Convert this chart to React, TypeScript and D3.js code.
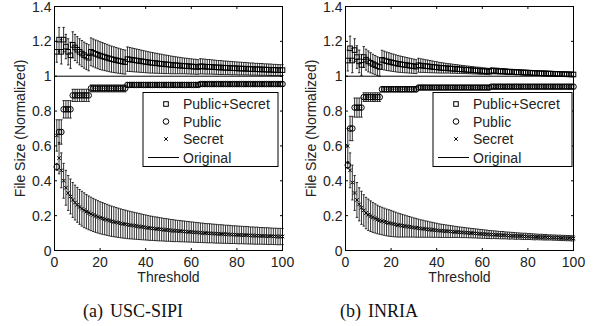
import * as d3 from 'd3';

const THRESHOLDS = d3.range(1, 101);
const X_TICKS = [0, 20, 40, 60, 80, 100];
const Y_TICKS = [0, 0.2, 0.4, 0.6, 0.8, 1, 1.2, 1.4];
const ORIGINAL = 1;
const LEGEND_LABELS = ['Public+Secret', 'Public', 'Secret', 'Original'];

// (a) USC-SIPI
const USC_PS = [
  1.14, 1.21, 1.14, 1.21, 1.17, 1.14, 1.12, 1.18, 1.165, 1.152,
  1.14, 1.13, 1.121, 1.113, 1.106, 1.14, 1.134, 1.128, 1.123, 1.118,
  1.114, 1.11, 1.106, 1.102, 1.098, 1.095, 1.092, 1.089, 1.086, 1.083,
  1.081, 1.098, 1.096, 1.094, 1.092, 1.09, 1.088, 1.086, 1.084, 1.082,
  1.08, 1.078, 1.077, 1.075, 1.074, 1.072, 1.071, 1.069, 1.068, 1.067,
  1.065, 1.064, 1.063, 1.062, 1.061, 1.06, 1.059, 1.058, 1.057, 1.056,
  1.055, 1.054, 1.053, 1.057, 1.056, 1.055, 1.054, 1.054, 1.053, 1.052,
  1.051, 1.05, 1.05, 1.049, 1.048, 1.048, 1.047, 1.046, 1.046, 1.045,
  1.044, 1.044, 1.043, 1.043, 1.042, 1.041, 1.041, 1.04, 1.04, 1.039,
  1.039, 1.038, 1.038, 1.037, 1.037, 1.036, 1.036, 1.035, 1.035, 1.035,
];
const USC_PS_ERR = [
  0.06, 0.07, 0.07, 0.07, 0.07, 0.075, 0.075, 0.075, 0.075, 0.075,
  0.075, 0.075, 0.075, 0.075, 0.075, 0.08, 0.08, 0.08, 0.08, 0.08,
  0.079, 0.078, 0.077, 0.076, 0.075, 0.074, 0.073, 0.072, 0.071, 0.07,
  0.069, 0.07, 0.069, 0.068, 0.067, 0.066, 0.065, 0.064, 0.063, 0.062,
  0.061, 0.06, 0.059, 0.058, 0.057, 0.056, 0.055, 0.054, 0.053, 0.052,
  0.051, 0.05, 0.049, 0.048, 0.047, 0.046, 0.045, 0.045, 0.044, 0.044,
  0.043, 0.043, 0.042, 0.044, 0.043, 0.043, 0.042, 0.042, 0.041, 0.041,
  0.04, 0.04, 0.04, 0.039, 0.039, 0.038, 0.038, 0.038, 0.037, 0.037,
  0.037, 0.036, 0.036, 0.036, 0.035, 0.035, 0.035, 0.034, 0.034, 0.034,
  0.034, 0.033, 0.033, 0.033, 0.033, 0.032, 0.032, 0.032, 0.031, 0.031,
];
const USC_PUB = [
  0.48, 0.68, 0.68, 0.81, 0.81, 0.81, 0.81, 0.89, 0.89, 0.89,
  0.89, 0.89, 0.89, 0.89, 0.89, 0.93, 0.93, 0.93, 0.93, 0.93,
  0.93, 0.93, 0.93, 0.93, 0.93, 0.93, 0.93, 0.93, 0.93, 0.93,
  0.93, 0.95, 0.95, 0.95, 0.95, 0.95, 0.95, 0.95, 0.95, 0.95,
  0.95, 0.95, 0.95, 0.95, 0.95, 0.95, 0.95, 0.95, 0.95, 0.95,
  0.95, 0.95, 0.95, 0.95, 0.95, 0.95, 0.95, 0.95, 0.95, 0.95,
  0.95, 0.95, 0.95, 0.955, 0.955, 0.955, 0.955, 0.955, 0.955, 0.955,
  0.955, 0.955, 0.955, 0.955, 0.955, 0.955, 0.955, 0.955, 0.955, 0.955,
  0.955, 0.955, 0.955, 0.955, 0.955, 0.955, 0.955, 0.955, 0.955, 0.955,
  0.955, 0.955, 0.955, 0.955, 0.955, 0.955, 0.955, 0.955, 0.955, 0.955,
];
const USC_PUB_ERR = [
  0.02, 0.07, 0.07, 0.05, 0.05, 0.05, 0.05, 0.035, 0.035, 0.035,
  0.035, 0.035, 0.035, 0.035, 0.035, 0.02, 0.02, 0.02, 0.02, 0.02,
  0.02, 0.02, 0.02, 0.02, 0.02, 0.02, 0.02, 0.02, 0.02, 0.02,
  0.02, 0.012, 0.012, 0.012, 0.012, 0.012, 0.012, 0.012, 0.012, 0.012,
  0.012, 0.012, 0.012, 0.012, 0.012, 0.012, 0.012, 0.012, 0.012, 0.012,
  0.012, 0.012, 0.012, 0.012, 0.012, 0.012, 0.012, 0.012, 0.012, 0.012,
  0.012, 0.012, 0.012, 0.01, 0.01, 0.01, 0.01, 0.01, 0.01, 0.01,
  0.01, 0.01, 0.01, 0.01, 0.01, 0.01, 0.01, 0.01, 0.01, 0.01,
  0.01, 0.01, 0.01, 0.01, 0.01, 0.01, 0.01, 0.01, 0.01, 0.01,
  0.01, 0.01, 0.01, 0.01, 0.01, 0.01, 0.01, 0.01, 0.01, 0.01,
];
const USC_SEC = [
  0.66, 0.53, 0.46, 0.4, 0.36, 0.33, 0.31, 0.29, 0.275, 0.262,
  0.25, 0.24, 0.231, 0.223, 0.216, 0.21, 0.204, 0.198, 0.193, 0.188,
  0.184, 0.18, 0.176, 0.172, 0.168, 0.165, 0.162, 0.159, 0.156, 0.153,
  0.151, 0.148, 0.146, 0.144, 0.142, 0.14, 0.138, 0.136, 0.134, 0.132,
  0.13, 0.128, 0.127, 0.125, 0.124, 0.122, 0.121, 0.119, 0.118, 0.117,
  0.115, 0.114, 0.113, 0.112, 0.111, 0.11, 0.109, 0.108, 0.107, 0.106,
  0.105, 0.104, 0.103, 0.102, 0.101, 0.1, 0.099, 0.099, 0.098, 0.097,
  0.096, 0.095, 0.095, 0.094, 0.093, 0.093, 0.092, 0.091, 0.091, 0.09,
  0.089, 0.089, 0.088, 0.088, 0.087, 0.086, 0.086, 0.085, 0.085, 0.084,
  0.084, 0.083, 0.083, 0.082, 0.082, 0.081, 0.081, 0.08, 0.08, 0.08,
];
const USC_SEC_ERR = [
  0.09, 0.09, 0.1, 0.1, 0.1, 0.1, 0.1, 0.1, 0.1, 0.1,
  0.1, 0.1, 0.1, 0.098, 0.097, 0.096, 0.095, 0.094, 0.093, 0.092,
  0.091, 0.09, 0.089, 0.088, 0.087, 0.086, 0.085, 0.084, 0.083, 0.082,
  0.081, 0.08, 0.079, 0.078, 0.077, 0.076, 0.075, 0.074, 0.073, 0.072,
  0.071, 0.07, 0.069, 0.068, 0.068, 0.067, 0.066, 0.065, 0.065, 0.064,
  0.063, 0.063, 0.062, 0.061, 0.061, 0.06, 0.06, 0.059, 0.059, 0.058,
  0.058, 0.057, 0.057, 0.056, 0.056, 0.055, 0.055, 0.055, 0.054, 0.054,
  0.054, 0.053, 0.053, 0.053, 0.052, 0.052, 0.052, 0.051, 0.051, 0.051,
  0.051, 0.05, 0.05, 0.05, 0.05, 0.049, 0.049, 0.049, 0.049, 0.048,
  0.048, 0.048, 0.048, 0.048, 0.047, 0.047, 0.047, 0.047, 0.047, 0.046,
];

// (b) INRIA
const INRIA_PS = [
  1.09, 1.16, 1.09, 1.15, 1.11, 1.085, 1.065, 1.11, 1.095, 1.085,
  1.077, 1.07, 1.064, 1.058, 1.053, 1.094, 1.09, 1.086, 1.083, 1.08,
  1.077, 1.074, 1.071, 1.069, 1.067, 1.065, 1.063, 1.061, 1.059, 1.057,
  1.055, 1.063, 1.061, 1.06, 1.058, 1.057, 1.055, 1.054, 1.052, 1.051,
  1.049, 1.048, 1.047, 1.046, 1.045, 1.044, 1.043, 1.042, 1.041, 1.04,
  1.039, 1.038, 1.037, 1.036, 1.035, 1.034, 1.033, 1.032, 1.031, 1.03,
  1.029, 1.028, 1.027, 1.031, 1.031, 1.03, 1.029, 1.028, 1.028, 1.027,
  1.026, 1.025, 1.025, 1.024, 1.023, 1.023, 1.022, 1.021, 1.021, 1.02,
  1.02, 1.019, 1.018, 1.018, 1.017, 1.017, 1.016, 1.016, 1.015, 1.015,
  1.014, 1.014, 1.013, 1.013, 1.012, 1.012, 1.011, 1.011, 1.01, 1.01,
];
const INRIA_PS_ERR = [
  0.06, 0.07, 0.07, 0.065, 0.065, 0.065, 0.06, 0.06, 0.06, 0.06,
  0.058, 0.056, 0.055, 0.054, 0.053, 0.055, 0.054, 0.053, 0.052, 0.051,
  0.05, 0.049, 0.048, 0.047, 0.046, 0.045, 0.044, 0.043, 0.042, 0.041,
  0.04, 0.04, 0.039, 0.038, 0.037, 0.036, 0.035, 0.034, 0.033, 0.032,
  0.031, 0.03, 0.029, 0.028, 0.027, 0.027, 0.026, 0.025, 0.025, 0.024,
  0.023, 0.023, 0.022, 0.022, 0.021, 0.021, 0.02, 0.02, 0.02, 0.019,
  0.019, 0.018, 0.018, 0.018, 0.017, 0.017, 0.017, 0.016, 0.016, 0.016,
  0.016, 0.015, 0.015, 0.015, 0.015, 0.014, 0.014, 0.014, 0.014, 0.014,
  0.013, 0.013, 0.013, 0.013, 0.013, 0.013, 0.013, 0.013, 0.013, 0.013,
  0.012, 0.012, 0.012, 0.012, 0.012, 0.012, 0.012, 0.012, 0.012, 0.012,
];
const INRIA_PUB = [
  0.49, 0.7, 0.7, 0.82, 0.82, 0.82, 0.82, 0.88, 0.88, 0.88,
  0.88, 0.88, 0.88, 0.88, 0.88, 0.925, 0.925, 0.925, 0.925, 0.925,
  0.925, 0.925, 0.925, 0.925, 0.925, 0.925, 0.925, 0.925, 0.925, 0.925,
  0.925, 0.935, 0.935, 0.935, 0.935, 0.935, 0.935, 0.935, 0.935, 0.935,
  0.935, 0.935, 0.935, 0.935, 0.935, 0.935, 0.935, 0.935, 0.935, 0.935,
  0.935, 0.935, 0.935, 0.935, 0.935, 0.935, 0.935, 0.935, 0.935, 0.935,
  0.935, 0.935, 0.935, 0.94, 0.94, 0.94, 0.94, 0.94, 0.94, 0.94,
  0.94, 0.94, 0.94, 0.94, 0.94, 0.94, 0.94, 0.94, 0.94, 0.94,
  0.94, 0.94, 0.94, 0.94, 0.94, 0.94, 0.94, 0.94, 0.94, 0.94,
  0.94, 0.94, 0.94, 0.94, 0.94, 0.94, 0.94, 0.94, 0.94, 0.94,
];
const INRIA_PUB_ERR = [
  0.02, 0.07, 0.07, 0.055, 0.055, 0.055, 0.055, 0.025, 0.025, 0.025,
  0.025, 0.025, 0.025, 0.025, 0.025, 0.015, 0.015, 0.015, 0.015, 0.015,
  0.015, 0.015, 0.015, 0.015, 0.015, 0.015, 0.015, 0.015, 0.015, 0.015,
  0.015, 0.01, 0.01, 0.01, 0.01, 0.01, 0.01, 0.01, 0.01, 0.01,
  0.01, 0.01, 0.01, 0.01, 0.01, 0.01, 0.01, 0.01, 0.01, 0.01,
  0.01, 0.01, 0.01, 0.01, 0.01, 0.01, 0.01, 0.01, 0.01, 0.01,
  0.01, 0.01, 0.01, 0.01, 0.01, 0.01, 0.01, 0.01, 0.01, 0.01,
  0.01, 0.01, 0.01, 0.01, 0.01, 0.01, 0.01, 0.01, 0.01, 0.01,
  0.01, 0.01, 0.01, 0.01, 0.01, 0.01, 0.01, 0.01, 0.01, 0.01,
  0.01, 0.01, 0.01, 0.01, 0.01, 0.01, 0.01, 0.01, 0.01, 0.01,
];
const INRIA_SEC = [
  0.6, 0.46, 0.39, 0.33, 0.29, 0.265, 0.245, 0.23, 0.215, 0.205,
  0.197, 0.19, 0.184, 0.178, 0.173, 0.169, 0.165, 0.161, 0.158, 0.155,
  0.152, 0.149, 0.146, 0.144, 0.142, 0.14, 0.138, 0.136, 0.134, 0.132,
  0.13, 0.128, 0.126, 0.125, 0.123, 0.122, 0.12, 0.119, 0.117, 0.116,
  0.114, 0.113, 0.112, 0.111, 0.11, 0.109, 0.108, 0.107, 0.106, 0.105,
  0.104, 0.103, 0.102, 0.101, 0.1, 0.099, 0.098, 0.097, 0.096, 0.095,
  0.094, 0.093, 0.092, 0.091, 0.091, 0.09, 0.089, 0.088, 0.088, 0.087,
  0.086, 0.085, 0.085, 0.084, 0.083, 0.083, 0.082, 0.081, 0.081, 0.08,
  0.08, 0.079, 0.078, 0.078, 0.077, 0.077, 0.076, 0.076, 0.075, 0.075,
  0.074, 0.074, 0.073, 0.073, 0.072, 0.072, 0.071, 0.071, 0.07, 0.07,
];
const INRIA_SEC_ERR = [
  0.1, 0.1, 0.1, 0.1, 0.1, 0.095, 0.095, 0.09, 0.09, 0.09,
  0.088, 0.086, 0.084, 0.082, 0.08, 0.079, 0.078, 0.077, 0.076, 0.075,
  0.073, 0.071, 0.069, 0.067, 0.065, 0.063, 0.061, 0.059, 0.057, 0.055,
  0.054, 0.052, 0.05, 0.049, 0.047, 0.046, 0.044, 0.043, 0.042, 0.04,
  0.039, 0.038, 0.037, 0.036, 0.035, 0.034, 0.033, 0.032, 0.031, 0.03,
  0.03, 0.029, 0.028, 0.028, 0.027, 0.027, 0.026, 0.026, 0.025, 0.025,
  0.024, 0.024, 0.023, 0.023, 0.022, 0.022, 0.021, 0.021, 0.021, 0.02,
  0.02, 0.02, 0.019, 0.019, 0.019, 0.018, 0.018, 0.018, 0.018, 0.017,
  0.017, 0.017, 0.017, 0.016, 0.016, 0.016, 0.016, 0.016, 0.015, 0.015,
  0.015, 0.015, 0.015, 0.015, 0.015, 0.015, 0.015, 0.015, 0.015, 0.015,
];

const width = 594;
const height = 326;
const plotTop = 6.5;
const plotBottom = 250.5;
const plotWidth = 228;
const tickLen = 2.5;
const sans = '"Liberation Sans", Arial, Helvetica, sans-serif';
const serif = '"Liberation Serif", "Times New Roman", serif';

type MarkerKind = 'square' | 'circle' | 'cross';

function Marker({ kind, cx, cy }: { kind: MarkerKind; cx: number; cy: number }) {
  if (kind === 'square') {
    return <rect x={cx - 2.3} y={cy - 2.3} width={4.6} height={4.6} fill="none" stroke="#000" strokeWidth={1} />;
  }
  if (kind === 'circle') {
    return <circle cx={cx} cy={cy} r={2.8} fill="none" stroke="#000" strokeWidth={1} />;
  }
  return (
    <path
      d={`M${cx - 1.8},${cy - 1.8}L${cx + 1.8},${cy + 1.8}M${cx - 1.8},${cy + 1.8}L${cx + 1.8},${cy - 1.8}`}
      stroke="#000"
      strokeWidth={1}
    />
  );
}

function ErrorSeries({
  x,
  y,
  mean,
  err,
  kind,
}: {
  x: d3.ScaleLinear<number, number>;
  y: d3.ScaleLinear<number, number>;
  mean: number[];
  err: number[];
  kind: MarkerKind;
}) {
  return (
    <g>
      {mean.map((m, i) => {
        const cx = x(THRESHOLDS[i]);
        const lo = y(m - err[i]);
        const hi = y(m + err[i]);
        return (
          <g key={i} stroke="#000" strokeWidth={0.8}>
            <line x1={cx} x2={cx} y1={lo} y2={hi} />
            <line x1={cx - 1.2} x2={cx + 1.2} y1={lo} y2={lo} />
            <line x1={cx - 1.2} x2={cx + 1.2} y1={hi} y2={hi} />
          </g>
        );
      })}
      {mean.map((m, i) => (
        <Marker key={i} kind={kind} cx={x(THRESHOLDS[i])} cy={y(m)} />
      ))}
    </g>
  );
}

function Panel({
  left,
  ps,
  psErr,
  pub,
  pubErr,
  sec,
  secErr,
  legendLeft,
  legendWidth,
}: {
  left: number;
  ps: number[];
  psErr: number[];
  pub: number[];
  pubErr: number[];
  sec: number[];
  secErr: number[];
  legendLeft: number;
  legendWidth: number;
}) {
  const x = d3.scaleLinear().domain([0, 100]).range([left, left + plotWidth]);
  const y = d3.scaleLinear().domain([0, 1.4]).range([plotBottom, plotTop]);
  const right = left + plotWidth;
  const lx = left + legendLeft;
  const rows = [104, 121.5, 139, 157.5];
  const kinds: MarkerKind[] = ['square', 'circle', 'cross'];

  return (
    <g fontFamily={sans} fontSize={14}>
      <ErrorSeries x={x} y={y} mean={ps} err={psErr} kind="square" />
      <ErrorSeries x={x} y={y} mean={pub} err={pubErr} kind="circle" />
      <ErrorSeries x={x} y={y} mean={sec} err={secErr} kind="cross" />
      <line x1={x(0)} x2={x(100)} y1={y(ORIGINAL)} y2={y(ORIGINAL)} stroke="#000" strokeWidth={1} />

      {/* axes box and inward ticks */}
      <rect x={left} y={plotTop} width={plotWidth} height={plotBottom - plotTop} fill="none" stroke="#000" strokeWidth={1} />
      {X_TICKS.map((t) => (
        <g key={`x${t}`} stroke="#000" strokeWidth={1}>
          <line x1={x(t)} x2={x(t)} y1={plotBottom} y2={plotBottom - tickLen} />
          <line x1={x(t)} x2={x(t)} y1={plotTop} y2={plotTop + tickLen} />
        </g>
      ))}
      {Y_TICKS.map((t) => (
        <g key={`y${t}`} stroke="#000" strokeWidth={1}>
          <line x1={left} x2={left + tickLen} y1={y(t)} y2={y(t)} />
          <line x1={right} x2={right - tickLen} y1={y(t)} y2={y(t)} />
        </g>
      ))}
      {X_TICKS.map((t) => (
        <text key={`xl${t}`} x={x(t)} y={plotBottom + 16} textAnchor="middle" fill="#222">
          {t}
        </text>
      ))}
      {Y_TICKS.map((t) => (
        <text key={`yl${t}`} x={left - 3} y={y(t) + 5} textAnchor="end" fill="#222">
          {d3.format('~g')(t)}
        </text>
      ))}
      <text x={(left + right) / 2} y={282} textAnchor="middle" fill="#222">
        Threshold
      </text>
      <text
        transform={`translate(${left - 30},${(plotTop + plotBottom) / 2}) rotate(-90)`}
        textAnchor="middle"
        fill="#222"
      >
        File Size (Normalized)
      </text>

      {/* legend */}
      <rect x={lx} y={92.5} width={legendWidth} height={74} fill="#fff" stroke="#000" strokeWidth={1} />
      {LEGEND_LABELS.map((label, i) => (
        <g key={label}>
          {i < 3 ? (
            <Marker kind={kinds[i]} cx={lx + 23} cy={rows[i]} />
          ) : (
            <line x1={lx + 5} x2={lx + 36} y1={rows[i]} y2={rows[i]} stroke="#000" strokeWidth={1} />
          )}
          <text x={lx + 40} y={rows[i] + 5} fill="#222">
            {label}
          </text>
        </g>
      ))}
    </g>
  );
}

export default function App() {
  return (
    <svg
      width={width}
      height={height}
      viewBox={`0 0 ${width} ${height}`}
      style={{ position: 'absolute', left: 0, top: 0, background: '#fff' }}
    >
      <rect width={width} height={height} fill="#fff" />
      <Panel
        left={54.5}
        ps={USC_PS}
        psErr={USC_PS_ERR}
        pub={USC_PUB}
        pubErr={USC_PUB_ERR}
        sec={USC_SEC}
        secErr={USC_SEC_ERR}
        legendLeft={88.5}
        legendWidth={135}
      />
      <Panel
        left={345.5}
        ps={INRIA_PS}
        psErr={INRIA_PS_ERR}
        pub={INRIA_PUB}
        pubErr={INRIA_PUB_ERR}
        sec={INRIA_SEC}
        secErr={INRIA_SEC_ERR}
        legendLeft={87.5}
        legendWidth={139}
      />
      <g fontFamily={serif} fontSize={18} fill="#111">
        <text x={83} y={317}>
          (a)<tspan dx={7}>USC-SIPI</tspan>
        </text>
        <text x={340} y={317}>
          (b)<tspan dx={7}>INRIA</tspan>
        </text>
      </g>
    </svg>
  );
}
